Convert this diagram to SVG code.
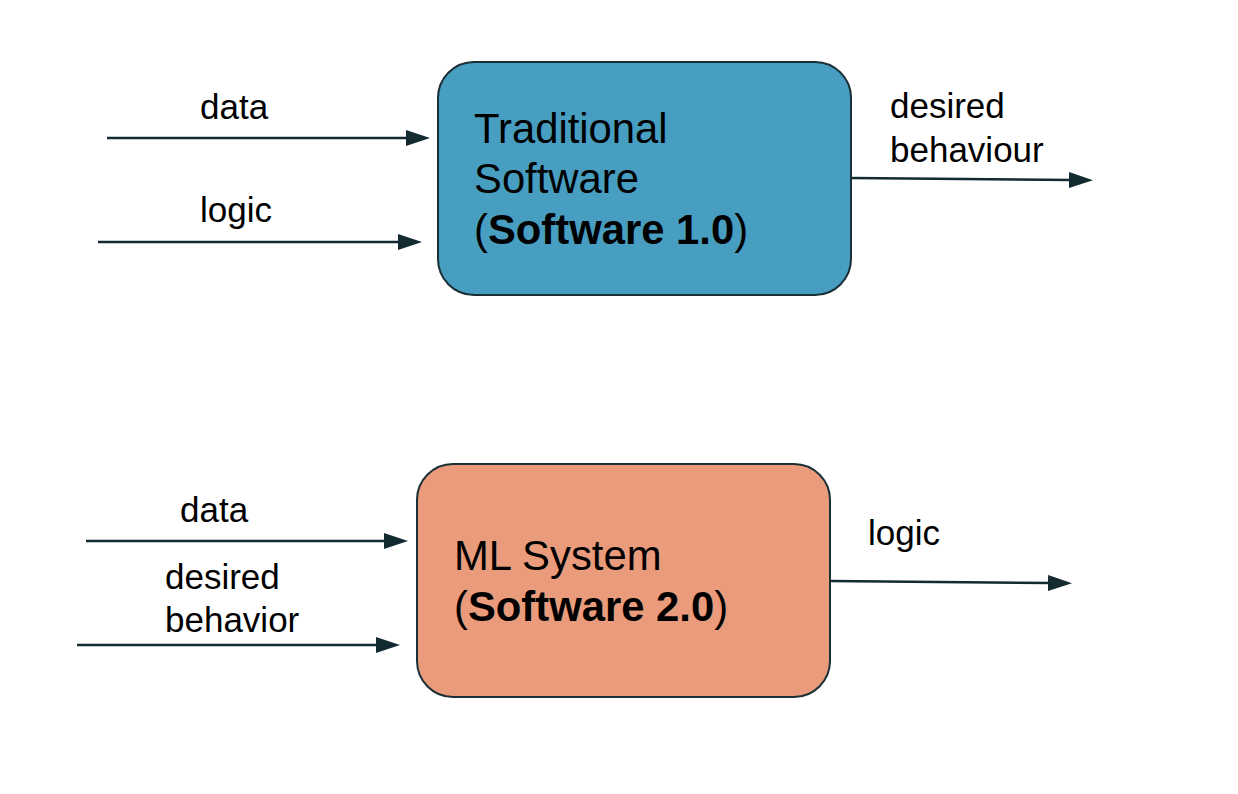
<svg xmlns="http://www.w3.org/2000/svg" width="1238" height="794" viewBox="0 0 1238 794">
  <style>
    .box { stroke: #1a2f36; stroke-width: 2; }
    .sw1 { fill: #479ec1; }
    .sw2 { fill: #ea9b7b; }
    .conn { stroke: #142a31; stroke-width: 2.5; fill: none; marker-end: url(#arrow); }
    .lbl { font-family: "Liberation Sans", Arial, sans-serif; font-size: 35px; fill: #000; }
    .ttl { font-family: "Liberation Sans", Arial, sans-serif; font-size: 41.8px; fill: #000; }
    .b { font-weight: bold; }
  </style>
  <defs>
    <marker id="arrow" viewBox="0 0 24 16" refX="2" refY="8" markerWidth="24" markerHeight="16" markerUnits="userSpaceOnUse" orient="auto">
      <path d="M0,0 L24,8 L0,16 z" fill="#142a31"/>
    </marker>
  </defs>
  <rect width="1238" height="794" fill="#ffffff"/>

  <g id="connectors">
    <path class="conn" d="M107,138 L408,138"/>
    <path class="conn" d="M98,242 L400,242"/>
    <path class="conn" d="M851,178 L1071,180"/>
    <path class="conn" d="M86,541 L386,541"/>
    <path class="conn" d="M77,645 L378,645"/>
    <path class="conn" d="M830,581 L1050,583"/>
  </g>

  <g id="node-software1">
    <rect class="box sw1" x="438" y="62" width="413" height="233" rx="36" ry="36"/>
    <text class="ttl" x="474" y="143">Traditional</text>
    <text class="ttl" x="474" y="193">Software</text>
    <text class="ttl" x="474" y="244">(<tspan class="b">Software 1.0</tspan>)</text>
  </g>

  <g id="node-software2">
    <rect class="box sw2" x="417" y="464" width="413" height="233" rx="36" ry="36"/>
    <text class="ttl" x="454" y="570">ML System</text>
    <text class="ttl" x="454" y="621">(<tspan class="b">Software 2.0</tspan>)</text>
  </g>

  <g id="labels">
    <text class="lbl" x="200" y="119">data</text>
    <text class="lbl" x="200" y="222">logic</text>
    <text class="lbl" x="890" y="118">desired</text>
    <text class="lbl" x="890" y="162">behaviour</text>
    <text class="lbl" x="180" y="522">data</text>
    <text class="lbl" x="165" y="589">desired</text>
    <text class="lbl" x="165" y="632">behavior</text>
    <text class="lbl" x="868" y="545">logic</text>
  </g>
</svg>
